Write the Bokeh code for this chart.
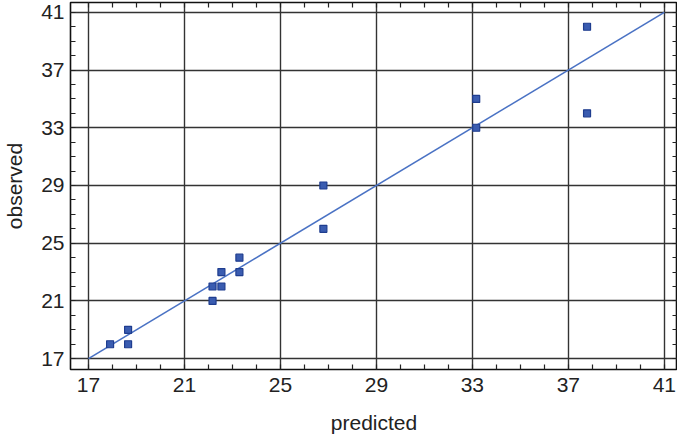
from bokeh.plotting import figure
from bokeh.models import LinearAxis, FixedTicker, Range1d
from bokeh.embed import file_html
from bokeh.resources import INLINE

# data
predicted = [17.9, 18.65, 18.65, 22.17, 22.17, 22.54, 22.54, 23.29, 23.29,
             26.79, 26.79, 33.16, 33.16, 37.78, 37.78]
observed = [18, 19, 18, 21, 22, 22, 23, 23, 24, 29, 26, 35, 33, 40, 34]
fit_x = [17, 41]
fit_y = [17, 41]
major_ticks = [17, 21, 25, 29, 33, 37, 41]
minor_ticks = [v for v in range(16, 43) if v not in major_ticks]

FONT = "Liberation Sans"

p = figure(width=677, height=436, output_backend="svg", toolbar_location=None,
           x_range=Range1d(16.25, 41.55), y_range=Range1d(16.25, 41.68),
           x_axis_location=None, y_axis_location=None,
           min_border_left=66, min_border_right=0, min_border_top=2,
           min_border_bottom=64, background_fill_color="white",
           border_fill_color="white")
p.outline_line_color = "#111111"
p.outline_line_width = 1.6


def make_axis(labels, title):
    ax = LinearAxis(ticker=FixedTicker(ticks=major_ticks, minor_ticks=minor_ticks))
    ax.axis_line_color = None
    ax.major_tick_in = 5
    ax.major_tick_out = 0
    ax.minor_tick_in = 5
    ax.minor_tick_out = 0
    ax.major_tick_line_color = "#222222"
    ax.minor_tick_line_color = "#222222"
    ax.major_tick_line_width = 1.2
    ax.minor_tick_line_width = 1.2
    if labels:
        ax.major_label_text_font = FONT
        ax.major_label_text_font_size = "21px"
        ax.major_label_text_color = "#222222"
        ax.axis_label = title
        ax.axis_label_text_font = FONT
        ax.axis_label_text_font_size = "21px"
        ax.axis_label_text_font_style = "normal"
        ax.axis_label_text_color = "#222222"
    else:
        ax.major_label_standoff = 0
        ax.major_label_text_font_size = "0px"
        ax.major_label_text_color = None
    return ax


bx = make_axis(True, "predicted")
bx.major_label_standoff = 8
bx.axis_label_standoff = 16
ly = make_axis(True, "observed")
ly.major_label_standoff = 6
ly.axis_label_standoff = 12
tx = make_axis(False, "")
ry = make_axis(False, "")
p.add_layout(bx, "below")
p.add_layout(ly, "left")
p.add_layout(tx, "above")
p.add_layout(ry, "right")

p.xgrid.ticker = FixedTicker(ticks=major_ticks)
p.ygrid.ticker = FixedTicker(ticks=major_ticks)
p.grid.grid_line_color = "#333333"
p.grid.grid_line_width = 1.4
p.grid.grid_line_alpha = 1.0

p.line(fit_x, fit_y, line_color="#4a72c4", line_width=1.6)
p.scatter(predicted, observed, marker="square", size=7,
          fill_color="#3a5cb0", line_color="#1f3d8f", line_width=1.2)

open("out.html", "w").write(file_html(p, INLINE))
